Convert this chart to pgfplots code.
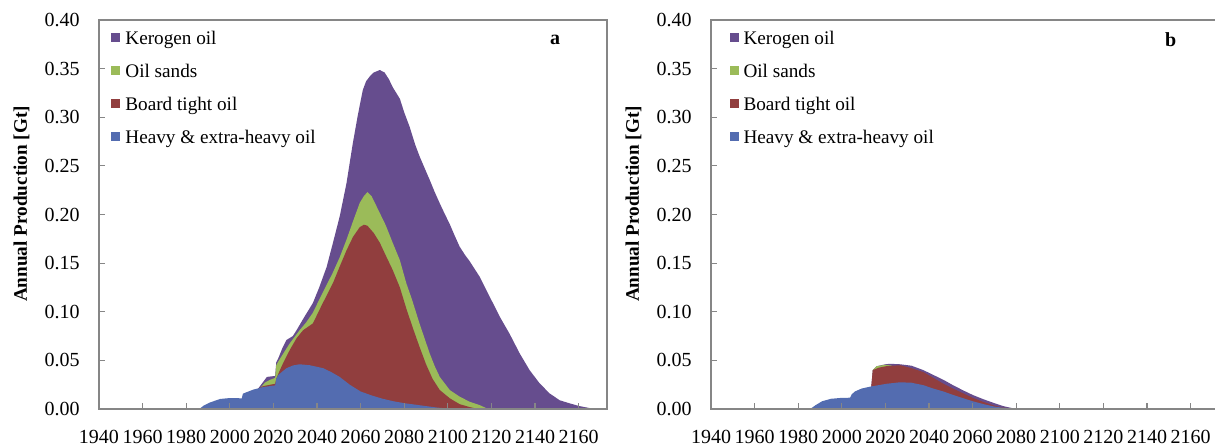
\documentclass[border=0pt]{standalone}
\usepackage{pgfplots}
\pgfplotsset{compat=1.18}
\usepackage{fontspec}
\setmainfont{Liberation Serif}
\definecolor{ker}{RGB}{102,77,142}
\definecolor{sand}{RGB}{155,187,89}
\definecolor{tight}{RGB}{145,62,62}
\definecolor{heavy}{RGB}{83,108,176}
\definecolor{axgray}{RGB}{134,134,134}

\pgfplotsset{panel/.style={
  scale only axis, width=254pt, height=194.5pt,
  xmin=1940, xmax=2173, ymin=0, ymax=0.4,
  axis on top,
  axis line style={axgray, line width=0.6pt},
  tick style={axgray, line width=0.6pt},
  tick align=inside, major tick length=3pt,
  xtick pos=lower, ytick pos=left,
  xtick={1940,1960,1980,2000,2020,2040,2060,2080,2100,2120,2140,2160},
  xticklabels={1940,1960,1980,2000,2020,2040,2060,2080,2100,2120,2140,2160},
  ytick={0,0.05,0.1,0.15,0.2,0.25,0.3,0.35,0.4},
  yticklabels={0.00,0.05,0.10,0.15,0.20,0.25,0.30,0.35,0.40},
  xticklabel style={font=\fontsize{10}{12}\selectfont, anchor=north, inner sep=0pt, yshift=-10.5pt},
  yticklabel style={font=\fontsize{10}{12}\selectfont, anchor=east, inner sep=0pt, xshift=-9.5pt},
  ylabel={Annual Production [Gt]},
  ylabel style={font=\bfseries\fontsize{9.6}{11}\selectfont, at={(axis description cs:-0.1526,0.527)}, anchor=center},
  legend style={draw=none, fill=none, font=\fontsize{9.6}{11}\selectfont, anchor=north west,
    row sep=8.4pt, column sep=2.5pt, inner sep=0pt, nodes={inner sep=0pt}},
  legend cell align=left,
  legend image code/.code={\fill[##1] (0pt,-1.5pt) rectangle (4.5pt,3pt);},
  legend entries={Kerogen oil, Oil sands, Board tight oil, Heavy \& extra-heavy oil},
  every axis plot/.append style={draw=none},
}}

\begin{document}
\begin{tikzpicture}
\path[use as bounding box] (0,0) rectangle (607.5pt,223.5pt);

\begin{axis}[panel, at={(49.5pt,19pt)}, anchor=south west,
  legend style={at={(axis description cs:0.0236,0.973)}}]
\addplot[fill=ker] table {
x y
2013 0.021
2015 0.027
2017 0.033
2020.8 0.034
2021.3 0.048
2022.2 0.052
2024 0.062
2026 0.071
2028.9 0.075
2030.6 0.081
2034 0.094
2038.1 0.109
2041 0.125
2044.4 0.146
2047.2 0.170
2050.4 0.198
2053.5 0.232
2056.4 0.273
2058.7 0.302
2061 0.328
2062.5 0.337
2064.2 0.342
2066 0.346
2068.8 0.3486
2071 0.346
2073 0.339
2074.7 0.331
2078 0.319
2080 0.305
2082.5 0.290
2085 0.272
2087.1 0.2595
2089.5 0.247
2091.7 0.2355
2094 0.223
2096.3 0.2115
2098.5 0.201
2100.9 0.190
2103 0.179
2105.4 0.167
2108 0.158
2110 0.152
2114.6 0.136
2119.2 0.1155
2123.8 0.095
2128.4 0.077
2133 0.057
2137.5 0.040
2142.1 0.0264
2146.7 0.016
2151.3 0.009
2155.9 0.0058
2160.4 0.003
2165 0.001
2168 0
} \closedcycle;
\addplot[fill=sand] table {
x y
2014 0.0215
2016 0.027
2018.4 0.030
2020.8 0.032
2021.3 0.045
2022.2 0.0487
2024.5 0.057
2027.5 0.0675
2032 0.081
2035 0.089
2038.1 0.099
2042 0.117
2047.2 0.140
2050.4 0.156
2053.5 0.174
2056.5 0.193
2059.6 0.212
2061.5 0.219
2063.1 0.223
2065 0.219
2068.8 0.2015
2071.5 0.189
2074.7 0.171
2078 0.153
2081 0.129
2083.5 0.113
2087 0.088
2091.7 0.057
2094 0.044
2096.3 0.033
2100.9 0.0195
2105.4 0.0127
2110 0.0075
2114.6 0.004
2118.5 0
} \closedcycle;
\addplot[fill=tight] table {
x y
2013 0.021
2015.3 0.0235
2020.8 0.026
2021.3 0.031
2022.2 0.036
2024.4 0.047
2027.5 0.0607
2030.6 0.0727
2033.6 0.081
2038.1 0.088
2042 0.106
2047.4 0.130
2050.5 0.147
2053.5 0.163
2056.5 0.177
2059.6 0.187
2061.5 0.1895
2063.1 0.1885
2066 0.181
2068.8 0.171
2071.5 0.158
2074.7 0.143
2078 0.125
2081 0.103
2084 0.083
2087 0.064
2090 0.046
2093 0.031
2096.3 0.0195
2100.9 0.011
2105.4 0.005
2110 0.002
2114 0
} \closedcycle;
\addplot[fill=heavy] table {
x y
1986 0
1988 0.0035
1991 0.0068
1995.5 0.0103
2000 0.0113
2005.5 0.011
2006 0.0158
2010.7 0.0199
2015.3 0.0226
2020.8 0.0243
2021.3 0.031
2022.2 0.035
2026 0.042
2029 0.0448
2032 0.046
2036.7 0.045
2042.8 0.042
2046.5 0.038
2050.4 0.033
2055 0.025
2060 0.018
2065 0.014
2070 0.0106
2075 0.008
2080 0.006
2085 0.0045
2090 0.003
2095 0.0015
2100 0.0005
2105 0
} \closedcycle;
\node[font=\bfseries\fontsize{10}{12}\selectfont] at (rel axis cs:0.898,0.9486) {a};
\end{axis}

\begin{axis}[panel, at={(355.5pt,19pt)}, anchor=south west,
  legend style={at={(axis description cs:0.0357,0.973)}}]
\addplot[fill=ker] table {
x y
2013.5 0.023
2014.2 0.040
2016 0.044
2020 0.046
2022 0.0465
2026.8 0.046
2032 0.0445
2037.4 0.040
2042 0.035
2046.6 0.030
2051 0.0245
2055.8 0.019
2060 0.0145
2065 0.010
2070 0.006
2074 0.003
2080 0
} \closedcycle;
\addplot[fill=sand] table {
x y
2014.2 0.040
2016 0.044
2020 0.0455
2023 0.0446
} \closedcycle;
\addplot[fill=tight] table {
x y
2013.5 0.023
2014.2 0.040
2017 0.0425
2020.7 0.0442
2026.8 0.045
2032 0.042
2037.4 0.038
2042 0.032
2046.6 0.026
2051 0.021
2055.8 0.016
2060 0.0115
2065 0.0072
2070 0.0035
2074 0.0015
2080 0
} \closedcycle;
\addplot[fill=heavy] table {
x y
1985.5 0
1988 0.004
1991 0.008
1995 0.0105
2000 0.0115
2003.8 0.0116
2004.5 0.015
2006 0.018
2009 0.021
2013 0.023
2020.7 0.026
2026.8 0.0275
2032 0.027
2037.4 0.0245
2042 0.021
2046.6 0.018
2051 0.0145
2055.8 0.011
2060 0.008
2065 0.005
2070 0.0025
2074 0.0013
2080 0
} \closedcycle;
\node[font=\bfseries\fontsize{10}{12}\selectfont] at (rel axis cs:0.905,0.9486) {b};
\end{axis}
\end{tikzpicture}
\end{document}
